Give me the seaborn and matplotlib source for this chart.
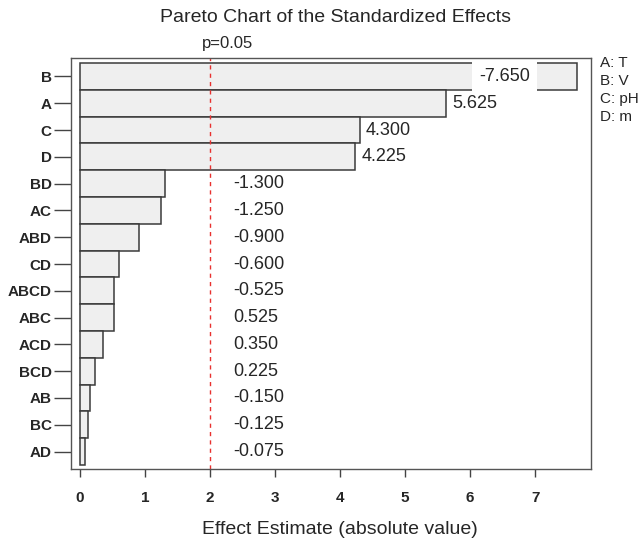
import matplotlib
matplotlib.use("Agg")
import matplotlib.pyplot as plt
import seaborn as sns
import pandas as pd

# Effects, sorted by absolute value (as in the reference)
terms = ["B", "A", "C", "D", "BD", "AC", "ABD", "CD", "ABCD", "ABC", "ACD", "BCD", "AB", "BC", "AD"]
effects = [-7.650, 5.625, 4.300, 4.225, -1.300, -1.250, -0.900, -0.600,
           -0.525, 0.525, 0.350, 0.225, -0.150, -0.125, -0.075]
factor_names = ["A: T", "B: V", "C: pH", "D: m"]
p_limit = 2.0  # reference line at p=0.05

df = pd.DataFrame({"term": terms, "effect": effects})
df["abs_effect"] = df["effect"].abs()

sns.set_style("white")
plt.rcParams["font.family"] = ["Liberation Sans", "DejaVu Sans"]

fig = plt.figure(figsize=(6.43, 5.42), dpi=100)
ax = fig.add_axes([71 / 643, 1 - 469 / 542, 520 / 643, 411 / 542])

sns.barplot(data=df, x="abs_effect", y="term", orient="h", color="#efefef",
            saturation=1, edgecolor="#3a3a3a", linewidth=1.1, width=1.0, ax=ax)

ax.set_xlim(-0.14, 7.86)
ax.set_ylim(14.65, -0.69)

# p=0.05 reference line
ax.axvline(p_limit, color="#e8312f", linestyle=(0, (3, 3)), linewidth=1.0, zorder=1)
ax.text(1.88, -0.95, "p=0.05", fontsize=12, ha="left", va="bottom")

# value labels
for i, (val, a) in enumerate(zip(df["effect"], df["abs_effect"])):
    label = f"{val:.3f}"
    if i == 0:
        ax.text(a - 0.73, i, label, fontsize=13, ha="right", va="center",
                bbox=dict(facecolor="white", edgecolor="none", pad=5))
    elif a > 2.2:
        ax.text(a + 0.1, i, label, fontsize=13, ha="left", va="center")
    else:
        ax.text(2.35, i, label, fontsize=13, ha="left", va="center")

# factor legend
fig.text(600 / 643, 1 - 56 / 542, "\n".join(factor_names), fontsize=11,
         ha="left", va="top", linespacing=1.35)

for s in ax.spines.values():
    s.set_color("#555555")
    s.set_linewidth(1.0)

ax.set_xticks(range(0, 8))
ax.tick_params(axis="both", direction="out", width=1, color="#444444",
               bottom=True, left=True)
ax.tick_params(axis="x", length=6, labelsize=11, pad=10)
ax.tick_params(axis="y", length=12, labelsize=11, pad=2)
ax.set_ylabel("")
ax.set_xlabel("")
for lbl in ax.get_xticklabels() + ax.get_yticklabels():
    lbl.set_fontweight("bold")

fig.text(340 / 643, 1 - 530 / 542, "Effect Estimate (absolute value)",
         fontsize=14, ha="center", va="center")
fig.text(335 / 643, 1 - 17 / 542, "Pareto Chart of the Standardized Effects",
         fontsize=14, ha="center", va="center")

fig.savefig("out.png", dpi=100)
